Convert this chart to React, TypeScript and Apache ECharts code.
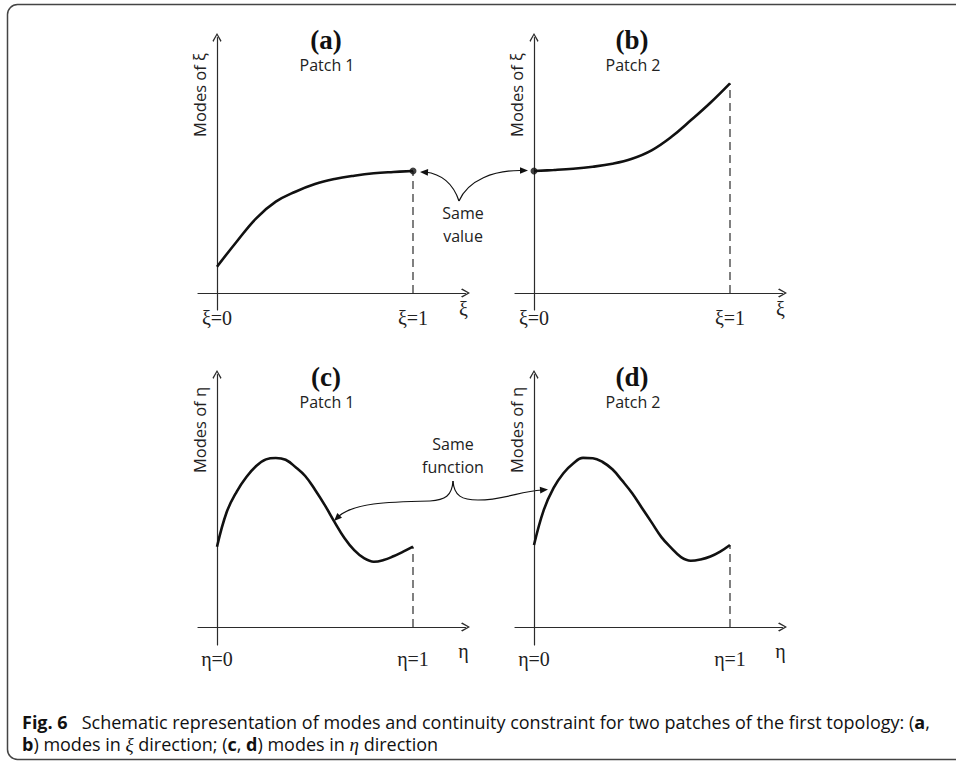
import React, { useEffect, useRef } from 'react';
import * as echarts from 'echarts';

// ---------- data ----------
const xiTickLabels = ['ξ=0', 'ξ=1'];
const etaTickLabels = ['η=0', 'η=1'];
const xAxisNames = ['ξ', 'ξ', 'η', 'η'];
const yAxisNames = ['Modes of ξ', 'Modes of ξ', 'Modes of η', 'Modes of η'];
const panelLetters = ['(a)', '(b)', '(c)', '(d)'];
const patchNames = ['Patch 1', 'Patch 2', 'Patch 1', 'Patch 2'];

// Panel (a): modes of xi, patch 1
const curveA = [
  [0, 0.263], [0.1, 0.513], [0.2, 0.747], [0.3, 0.913], [0.4, 1.013], [0.5, 1.09],
  [0.6, 1.14], [0.7, 1.173], [0.8, 1.197], [0.9, 1.21], [1, 1.22],
];
// Panel (b): modes of xi, patch 2
const curveB = [
  [0, 1.22], [0.1, 1.23], [0.2, 1.243], [0.3, 1.263], [0.4, 1.293], [0.5, 1.343],
  [0.6, 1.427], [0.7, 1.56], [0.8, 1.727], [0.9, 1.903], [1, 2.097],
];
// Panel (c): modes of eta, patch 1
const curveC = [
  [0, 0.803], [0.05, 1.152], [0.1, 1.352], [0.15, 1.5], [0.2, 1.61], [0.25, 1.676],
  [0.3, 1.69], [0.35, 1.672], [0.4, 1.6], [0.45, 1.51], [0.5, 1.373], [0.55, 1.219],
  [0.6, 1.049], [0.65, 0.89], [0.7, 0.768], [0.75, 0.688], [0.8, 0.653], [0.85, 0.67],
  [0.9, 0.707], [0.95, 0.753], [1, 0.803],
];
// Panel (d): modes of eta, patch 2
const curveD = [
  [0, 0.82], [0.05, 1.171], [0.1, 1.391], [0.15, 1.538], [0.2, 1.636], [0.25, 1.691],
  [0.3, 1.688], [0.35, 1.65], [0.4, 1.577], [0.45, 1.463], [0.5, 1.34], [0.55, 1.193],
  [0.6, 1.046], [0.65, 0.899], [0.7, 0.791], [0.75, 0.699], [0.8, 0.663], [0.85, 0.676],
  [0.9, 0.705], [0.95, 0.754], [1, 0.82],
];
const sameValuePoints = [[[1, 1.22]], [[0, 1.22]], [], []];
const curves = [curveA, curveB, curveC, curveD];

// ---------- layout (pixel anchors of each panel) ----------
const PANELS = [
  { x0: 217, x1: 413, left: 198, tip: 470, zeroY: 293, top: 33, bottom: 310, cx: 326, yNameX: 199, yNameY: 95, labelMargin: -2, namePad: 6 },
  { x0: 534, x1: 730, left: 515, tip: 787, zeroY: 293, top: 33, bottom: 310, cx: 632, yNameX: 516, yNameY: 95, labelMargin: -2, namePad: 6 },
  { x0: 217, x1: 413, left: 198, tip: 470, zeroY: 627, top: 370, bottom: 645, cx: 326, yNameX: 199, yNameY: 430, labelMargin: 4, namePad: 14 },
  { x0: 534, x1: 730, left: 515, tip: 787, zeroY: 627, top: 370, bottom: 645, cx: 632, yNameX: 516, yNameY: 430, labelMargin: 4, namePad: 14 },
];
const UNIT_Y = 100;
const ARROW_H = 9;
const CHEVRON = 'path://M50,0 L100,86 L90,100 L50,26 L10,100 L0,86 Z';
const INK = '#111';
const AXIS = '#2b2b2b';
const SERIF = '"Liberation Serif", "Times New Roman", serif';
const SANS = '"Open Sans", "Noto Sans", sans-serif';

function arrowHead(tx: number, ty: number, dx: number, dy: number, len = 8, hw = 3.3) {
  const l = Math.hypot(dx, dy);
  const ux = dx / l, uy = dy / l;
  const bx = tx - ux * len, by = ty - uy * len;
  return {
    type: 'polygon',
    shape: { points: [[tx, ty], [bx - uy * hw, by + ux * hw], [bx + uy * hw, by - ux * hw]] },
    style: { fill: INK },
    silent: true,
  };
}

function curve(x1: number, y1: number, cpx1: number, cpy1: number, cpx2: number, cpy2: number, x2: number, y2: number) {
  return {
    type: 'bezierCurve',
    shape: { x1, y1, cpx1, cpy1, cpx2, cpy2, x2, y2 },
    style: { stroke: INK, lineWidth: 1.2, fill: null },
    silent: true,
  };
}

function buildOption() {
  const grid: any[] = [];
  const xAxis: any[] = [];
  const yAxis: any[] = [];
  const series: any[] = [];
  const graphic: any[] = [];

  PANELS.forEach((p, i) => {
    const end = p.tip - ARROW_H / 2;
    const topEnd = p.top + ARROW_H / 2;
    const ux = p.x1 - p.x0;
    grid.push({
      left: p.left, top: topEnd, width: end - p.left, height: p.bottom - topEnd,
      containLabel: false, outerBoundsMode: 'none',
    });
    const tickLabels = i < 2 ? xiTickLabels : etaTickLabels;
    xAxis.push({
      type: 'value', gridIndex: i,
      min: (p.left - p.x0) / ux, max: (end - p.x0) / ux,
      axisLine: {
        show: true, onZero: true,
        symbol: ['none', CHEVRON], symbolSize: [10, ARROW_H],
        lineStyle: { color: AXIS, width: 1.2 },
      },
      axisTick: { show: false },
      splitLine: { show: false },
      axisLabel: {
        show: true, customValues: [0, 1], margin: p.labelMargin,
        formatter: (v: number) => (v < 0.5 ? tickLabels[0] : tickLabels[1]),
        fontFamily: SERIF, fontSize: 20, color: '#222',
      },
      name: xAxisNames[i], nameLocation: 'end', nameGap: -2,
      nameTextStyle: { fontFamily: SERIF, fontSize: 20, color: '#222', align: 'center', verticalAlign: 'top', padding: [p.namePad, 0, 0, 0] },
    });
    yAxis.push({
      type: 'value', gridIndex: i,
      min: (p.zeroY - p.bottom) / UNIT_Y, max: (p.zeroY - topEnd) / UNIT_Y,
      axisLine: {
        show: true, onZero: true,
        symbol: ['none', CHEVRON], symbolSize: [10, ARROW_H],
        lineStyle: { color: AXIS, width: 1.2 },
      },
      axisTick: { show: false },
      splitLine: { show: false },
      axisLabel: { show: false },
    });
    const data = curves[i];
    series.push({
      type: 'line', xAxisIndex: i, yAxisIndex: i, data,
      smooth: 0.4, symbol: 'none', silent: true,
      lineStyle: { color: INK, width: 2.6 },
      z: 3,
    });
    const last = data[data.length - 1];
    series.push({
      type: 'line', xAxisIndex: i, yAxisIndex: i,
      data: [[last[0], 0], [last[0], last[1]]],
      symbol: 'none', silent: true,
      lineStyle: { color: AXIS, width: 1.2, type: [8, 5] },
      z: 2,
    });
    if (sameValuePoints[i].length) {
      series.push({
        type: 'scatter', xAxisIndex: i, yAxisIndex: i, data: sameValuePoints[i],
        symbolSize: 7, itemStyle: { color: INK }, silent: true, z: 4,
      });
    }
    graphic.push({
      type: 'text', x: p.cx, y: p.top + 7, silent: true,
      style: { text: panelLetters[i], x: 0, y: 0, align: 'center', verticalAlign: 'middle', fontFamily: SERIF, fontWeight: 'bold', fontSize: 27, fill: '#111' },
    });
    graphic.push({
      type: 'text', x: p.cx + 1, y: p.top + 32, silent: true,
      style: { text: patchNames[i], x: 0, y: 0, align: 'center', verticalAlign: 'middle', fontFamily: SANS, fontSize: 16, fill: '#222' },
    });
    graphic.push({
      type: 'text', x: p.yNameX, y: p.yNameY, rotation: Math.PI / 2, silent: true,
      style: { text: yAxisNames[i], x: 0, y: 0, align: 'center', verticalAlign: 'middle', fontFamily: SANS, fontSize: 16.5, fill: '#222' },
    });
  });

  // "Same value" annotation
  graphic.push({
    type: 'text', x: 463, y: 224, silent: true,
    style: { text: 'Same\nvalue', x: 0, y: 0, align: 'center', verticalAlign: 'middle', lineHeight: 23, fontFamily: SANS, fontSize: 16, fill: '#222' },
  });
  graphic.push(curve(459, 201, 453, 183, 442, 174, 425, 172));
  graphic.push(arrowHead(420, 172, -1, -0.05));
  graphic.push(curve(459, 201, 468, 180, 494, 170, 522, 170.5));
  graphic.push(arrowHead(528, 170.5, 1, 0));

  // "Same function" annotation with brace
  graphic.push({
    type: 'text', x: 453, y: 455, silent: true,
    style: { text: 'Same\nfunction', x: 0, y: 0, align: 'center', verticalAlign: 'middle', lineHeight: 23, fontFamily: SANS, fontSize: 16, fill: '#222' },
  });
  graphic.push(curve(453, 481, 452, 496, 445, 500, 430, 501));
  graphic.push(curve(430, 501, 385, 502, 355, 503, 339, 516));
  graphic.push(arrowHead(334, 521, -1, 1));
  graphic.push(curve(453, 481, 454, 496, 462, 500, 478, 500));
  graphic.push(curve(478, 500, 505, 500, 520, 491, 542, 490));
  graphic.push(arrowHead(548, 489.5, 1, -0.08));

  // frame
  graphic.push({
    type: 'rect', silent: true, z: -1,
    shape: { x: 7.5, y: 4.5, width: 1000, height: 755, r: 10 },
    style: { fill: null, stroke: '#444', lineWidth: 1.5 },
  });

  // caption (two lines)
  const capRich = {
    b: { fontFamily: SANS, fontSize: 18, fontWeight: 'bold', fill: '#111' },
    i: { fontFamily: SERIF, fontSize: 19, fontStyle: 'italic', fill: '#111' },
  };
  graphic.push({
    type: 'text', x: 22, y: 722, silent: true,
    style: {
      text: '{b|Fig. 6}   Schematic representation of modes and continuity constraint for two patches of the first topology: ({b|a},',
      x: 0, y: 0, align: 'left', verticalAlign: 'middle',
      fontFamily: SANS, fontSize: 18, fill: '#111', rich: capRich,
    },
  });
  graphic.push({
    type: 'text', x: 22, y: 744, silent: true,
    style: {
      text: '{b|b}) modes in {i|ξ} direction; ({b|c}, {b|d}) modes in {i|η} direction',
      x: 0, y: 0, align: 'left', verticalAlign: 'middle',
      fontFamily: SANS, fontSize: 18, fill: '#111', rich: capRich,
    },
  });

  return {
    animation: false,
    backgroundColor: '#fff',
    grid, xAxis, yAxis, series, graphic,
  };
}

export default function App() {
  const ref = useRef<HTMLDivElement>(null);
  useEffect(() => {
    const chart = echarts.init(ref.current!, null, { renderer: 'svg' });
    chart.setOption(buildOption() as any);
    return () => chart.dispose();
  }, []);
  return (
    <div
      ref={ref}
      style={{ position: 'fixed', left: 0, top: 0, width: 956, height: 763, background: '#fff' }}
    />
  );
}
